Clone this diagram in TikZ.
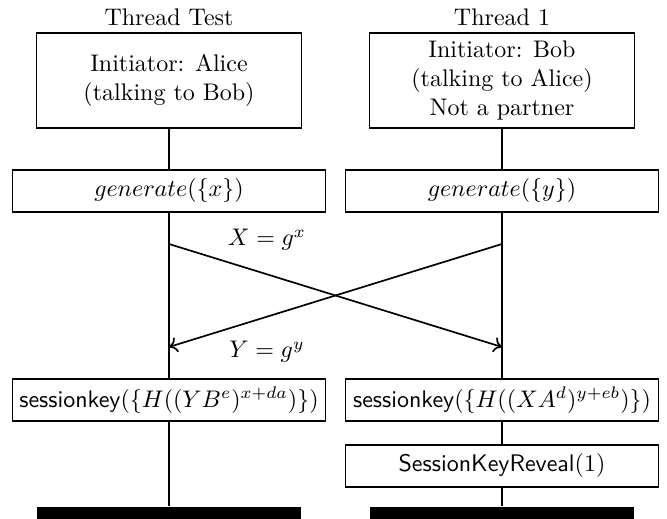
\documentclass[tikz,border=0pt]{standalone}
\usetikzlibrary{arrows.meta}
\begin{document}
\begin{tikzpicture}[x=0.41667pt,y=-0.41667pt, line width=0.7pt,
  headbox/.style={draw, fill=white, minimum width=110.4pt, minimum height=39.6pt, align=center, inner sep=1pt},
  actbox/.style={draw, fill=white, minimum width=130.4pt, minimum height=17.5pt, inner xsep=1pt, inner ysep=2pt},
  endbar/.style={fill=black, minimum width=110.4pt, minimum height=5.12pt, inner sep=0pt},
  msg/.style={-{To[length=3.4pt,width=6.4pt]}},
  lbl/.style={inner sep=1pt}]
\useasboundingbox (0,0) rectangle (667,519);
\node (tt) at (169,17) {Thread Test};
\node (t1) at (502,17) {Thread 1};
\node[headbox] (ha) at (169,80.5) {Initiator: Alice\\(talking to Bob)};
\node[headbox] (hb) at (502,80.5) {Initiator: Bob\\(talking to Alice)\\Not a partner};
\node[actbox] (ga) at (169,191) {$generate(\{x\})$};
\node[actbox] (gb) at (502,191) {$generate(\{y\})$};
\node[actbox] (sa) at (169,400) {\textsf{sessionkey}$(\{H((YB^e)^{x+da})\})$};
\node[actbox] (sb) at (502,400) {\textsf{sessionkey}$(\{H((XA^d)^{y+eb})\})$};
\node[actbox] (rb) at (502,466) {\textsf{SessionKeyReveal}$(1)$};
\node[endbar] (ea) at (169,512.85) {};
\node[endbar] (eb) at (502,512.85) {};
\draw (ha) -- (ga) -- (sa) -- (ea);
\draw (hb) -- (gb) -- (sb) -- (rb) -- (eb);
\coordinate (xs) at (169,244);
\coordinate (xe) at (502,347);
\coordinate (ys) at (502,244);
\coordinate (ye) at (169,347);
\draw[msg] (xs) -- (xe);
\draw[msg] (ys) -- (ye);
\node[lbl] (lx) at (267,240) {$X = g^x$};
\node[lbl] (ly) at (267,352) {$Y = g^y$};
\end{tikzpicture}
\end{document}
